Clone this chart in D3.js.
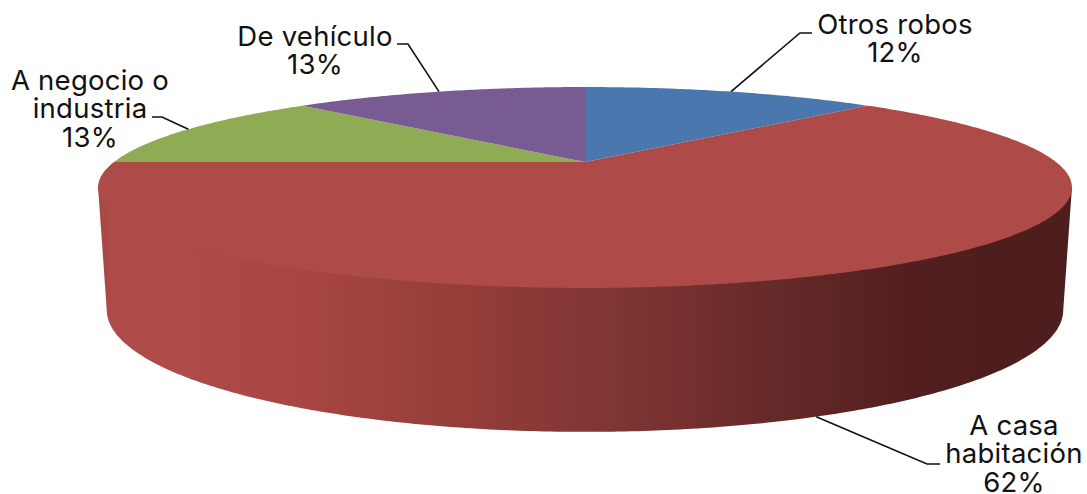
<!DOCTYPE html>
<meta charset="utf-8">
<style>
html, body { margin: 0; background: #fff; }
text { font-family: Inter, sans-serif; font-size: 27.5px; letter-spacing: 0.25px; fill: #111; text-anchor: middle; }
.leader { fill: none; stroke: #111; stroke-width: 1.6; }
</style>
<body>
<script src="https://d3js.org/d3.v7.min.js"></script>
<script>
var categories = ["Otros robos", "A casa habitación", "A negocio o industria", "De vehículo"];
var labelLines = [["Otros robos"], ["A casa", "habitación"], ["A negocio o", "industria"], ["De vehículo"]];
var percentLabels = ["12%", "62%", "13%", "13%"];
// slice sizes, the labels are rounded
var sliceValues = [12.5, 62.5, 12.5, 12.5];
var colors = ["#4977ae", "#ae4a47", "#8fac54", "#775b92"];

var width = 1087, height = 494;

// label block centre, first baseline, and where the leader elbow sits
var labelPos = [
  {x: 895, y: 34, elbow: [800, 33], end: [812, 33]},
  {x: 1014, y: 435, elbow: [927, 464], end: [940, 464]},
  {x: 90, y: 90, elbow: [162, 117], end: [152, 117]},
  {x: 315, y: 46, elbow: [408, 44], end: [397, 44]}
];

var svg = d3.select("body").append("svg")
    .attr("width", width)
    .attr("height", height)
    .style("display", "block");

// perspective disc: same tilt for top and bottom rim
var tilt = 0.2537;
var topRim = {cx: 585, a: 162, b: -52.9, r: 471};
var bottomRim = {cx: 585, a: 279, b: -43.3, r: 462.6};

function project(rim, angle) {
  var u = Math.sin(angle), v = Math.cos(angle), w = 1 + tilt * v;
  return [rim.cx + rim.r * u / w, (rim.a + rim.b * v) / w];
}

var line = d3.line();

// wall runs between the two widest points of the disc, through the front
var wallStart = Math.PI - Math.acos(tilt);
var wallEnd = Math.PI + Math.acos(tilt);
var wallAngles = d3.range(wallStart, wallEnd, 0.01).concat(wallEnd);

var grad = svg.append("defs").append("linearGradient")
    .attr("id", "wallShade")
    .attr("gradientUnits", "userSpaceOnUse")
    .attr("x1", 98).attr("x2", 1072).attr("y1", 0).attr("y2", 0);

[[98, "#a84744"], [112, "#ae4a47"], [190, "#ae4a47"], [300, "#a84643"], [460, "#953d39"], [585, "#833735"],
 [760, "#682b2a"], [900, "#531f1f"], [1000, "#4d1e1d"], [1072, "#4d1e1d"]].forEach(function(s) {
  grad.append("stop")
      .attr("offset", (s[0] - 98) / (1072 - 98))
      .attr("stop-color", s[1]);
});

// closed across the chord under the top face, so no seam shows along the rim
var wallPts = [project(topRim, wallStart)]
  .concat(wallAngles.map(function(a) { return project(bottomRim, a); }))
  .concat([project(topRim, wallEnd)]);

svg.append("path")
    .attr("d", line(wallPts) + "Z")
    .attr("fill", "url(#wallShade)");

// top face of each slice
var pie = d3.pie().sort(null).value(function(d) { return d; });
var arcs = pie(sliceValues);

svg.selectAll(".slice")
    .data(arcs)
  .enter().append("path")
    .attr("class", "slice")
    .attr("fill", function(d, i) { return colors[i]; })
    .attr("d", function(d) {
      var pts = [[topRim.cx, topRim.a]];
      var steps = d3.range(d.startAngle, d.endAngle, 0.01).concat(d.endAngle);
      steps.forEach(function(a) { pts.push(project(topRim, a)); });
      return line(pts) + "Z";
    });

// leader lines start on the rim at the middle of the slice
svg.selectAll(".leader")
    .data(arcs)
  .enter().append("path")
    .attr("class", "leader")
    .attr("d", function(d, i) {
      var mid = (d.startAngle + d.endAngle) / 2;
      var front = Math.cos(mid) < -tilt;
      var start = project(front ? bottomRim : topRim, mid);
      return line([start, labelPos[i].elbow, labelPos[i].end]);
    });

var labels = svg.selectAll(".label")
    .data(categories)
  .enter().append("text")
    .attr("class", "label")
    .attr("y", function(d, i) { return labelPos[i].y; });

labels.each(function(d, i) {
  var t = d3.select(this);
  labelLines[i].concat(percentLabels[i]).forEach(function(s, k) {
    t.append("tspan")
        .attr("x", labelPos[i].x)
        .attr("dy", k ? 28.4 : 0)
        .text(s);
  });
});
</script>
</body>
